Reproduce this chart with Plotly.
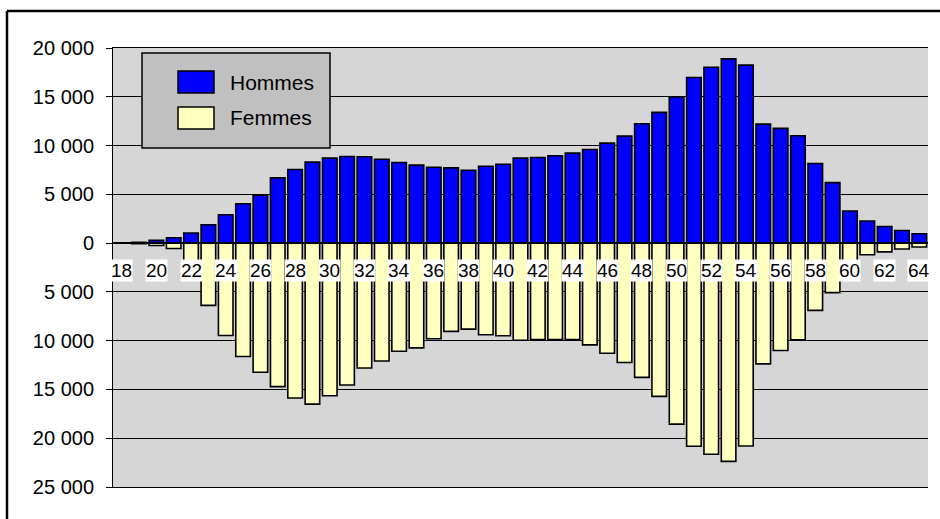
import plotly.graph_objects as go

# Ages 18 to 64
ages = list(range(18, 65))

hommes = [0, 80, 300, 550, 1030, 1880, 2910, 4040, 4900, 6690,
          7540, 8300, 8710, 8880, 8850, 8600, 8260, 7990, 7780, 7710,
          7470, 7880, 8090, 8710, 8780, 8950, 9220, 9600, 10250, 10970,
          12240, 13400, 14980, 16970, 18030, 18890, 18240, 12200, 11760, 11010,
          8160, 6200, 3290, 2260, 1710, 1300, 960]

femmes = [0, 60, 250, 550, 3000, 6380, 9470, 11630, 13240, 14710,
          15880, 16500, 15640, 14550, 12800, 12080, 11080, 10740, 9810, 9050,
          8820, 9400, 9500, 9950, 9880, 9880, 9880, 10430, 11290, 12240,
          13760, 15710, 18560, 20820, 21650, 22370, 20790, 12380, 11010, 9910,
          6890, 5080, 2800, 1200, 900, 600, 400]

y_tickvals = [20000, 15000, 10000, 5000, 0, -5000, -10000, -15000, -20000, -25000]
y_ticktext = ["20 000", "15 000", "10 000", "5 000", "0",
              "5 000", "10 000", "15 000", "20 000", "25 000"]
x_label_ages = list(range(18, 65, 2))

FONT = "Liberation Sans, Arial, sans-serif"
BLUE = "#0000ff"
CREAM = "#ffffc0"

fig = go.Figure()
fig.add_trace(go.Bar(x=ages, y=hommes, name="Hommes",
                     marker=dict(color=BLUE, line=dict(color="black", width=1.6))))
fig.add_trace(go.Bar(x=ages, y=[-v for v in femmes], name="Femmes",
                     marker=dict(color=CREAM, line=dict(color="black", width=1.6))))

# Plot area in pixels: left 113, right 928, top 48, bottom 487
L, R, T, B = 113, 12, 48, 32
W, H = 940, 519
pw, ph = W - L - R, H - T - B


def px_x(px):
    return (px - L) / pw


def px_y(py):
    return (H - B - py) / ph


shapes = []
# Outer frame (left and top edges)
shapes.append(dict(type="line", xref="paper", yref="paper",
                   x0=px_x(7), x1=px_x(7), y0=px_y(11), y1=px_y(530),
                   line=dict(color="black", width=2.5)))
shapes.append(dict(type="line", xref="paper", yref="paper",
                   x0=px_x(7), x1=px_x(945), y0=px_y(11), y1=px_y(11),
                   line=dict(color="black", width=2.5)))
# Legend box and swatches
shapes.append(dict(type="rect", xref="paper", yref="paper",
                   x0=px_x(142), x1=px_x(330), y0=px_y(148), y1=px_y(53),
                   fillcolor="#c0c0c0", line=dict(color="black", width=1.5)))
shapes.append(dict(type="rect", xref="paper", yref="paper",
                   x0=px_x(178), x1=px_x(214), y0=px_y(93), y1=px_y(71),
                   fillcolor=BLUE, line=dict(color="black", width=1.5)))
shapes.append(dict(type="rect", xref="paper", yref="paper",
                   x0=px_x(178), x1=px_x(214), y0=px_y(129), y1=px_y(107),
                   fillcolor=CREAM, line=dict(color="black", width=1.5)))

annotations = [
    dict(xref="paper", yref="paper", x=px_x(228), y=px_y(82.5), text="Hommes",
         showarrow=False, xanchor="left", yanchor="middle",
         font=dict(family=FONT, size=21, color="black")),
    dict(xref="paper", yref="paper", x=px_x(228), y=px_y(118), text="Femmes",
         showarrow=False, xanchor="left", yanchor="middle",
         font=dict(family=FONT, size=21, color="black")),
]
# Category labels sitting just under the zero line, on a white background
for a in x_label_ages:
    annotations.append(dict(x=a, y=0, xref="x", yref="y", text=str(a),
                            showarrow=False, yanchor="top", xanchor="center",
                            yshift=-16, bgcolor="white", borderpad=0,
                            font=dict(family=FONT, size=19, color="black")))

fig.update_layout(
    width=W, height=H,
    margin=dict(l=L, r=R, t=T, b=B, pad=0),
    paper_bgcolor="white",
    plot_bgcolor="#d6d6d6",
    barmode="relative",
    bargap=0.16,
    showlegend=False,
    shapes=shapes,
    annotations=annotations,
    font=dict(family=FONT, size=20, color="black"),
)
fig.update_xaxes(range=[17.5, 64.5], showticklabels=False, showgrid=False,
                 zeroline=False, ticks="", showline=True, mirror=True,
                 linecolor="black", linewidth=1)
fig.update_yaxes(range=[-25000, 20000], tickvals=y_tickvals, ticktext=y_ticktext,
                 ticks="outside", ticklen=6, tickcolor="black", tickwidth=1,
                 showgrid=True, gridcolor="black", gridwidth=1,
                 zeroline=True, zerolinecolor="black", zerolinewidth=2,
                 showline=True, linecolor="black", linewidth=1,
                 ticklabelstandoff=8,
                 tickfont=dict(family=FONT, size=20, color="black"))

fig.write_html("out.html")
